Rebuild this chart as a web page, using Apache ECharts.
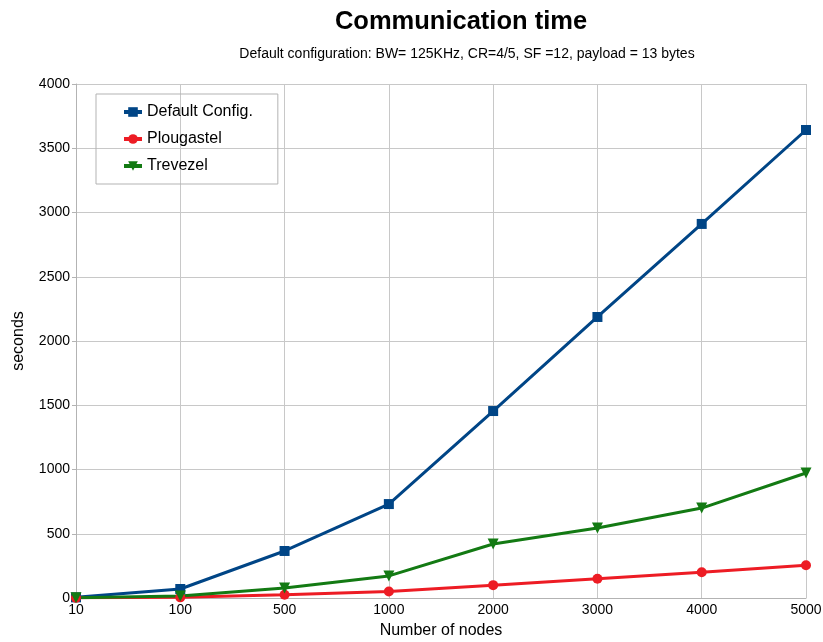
<!DOCTYPE html>
<html>
<head>
<meta charset="utf-8">
<script src="https://cdn.jsdelivr.net/npm/echarts@6/dist/echarts.min.js"></script>
<style>
  html, body { margin: 0; padding: 0; background: #fff; }
  #chart { width: 823px; height: 642px; }
</style>
</head>
<body>
<div id="chart"></div>
<script>
const nodes = ['10', '100', '500', '1000', '2000', '3000', '4000', '5000']
const defaultConfig = [5, 70, 366, 731, 1455, 2187, 2911, 3642]
const plougastel = [1, 5, 25, 50, 100, 150, 200, 255]
const trevezel = [2, 15, 78, 172, 420, 545, 700, 973]

const myChart = echarts.init(document.getElementById('chart'))
const font = 'Liberation Sans, Arial, sans-serif'

const mkSeries = (name, data, color, symbol, size) => ({
  name: name,
  type: 'line',
  data: data,
  symbol: symbol,
  symbolSize: size,
  lineStyle: { width: 3, color: color },
  itemStyle: { color: color },
  animation: false
})

myChart.setOption({
  title: [
    {
      text: 'Communication time',
      left: 456, top: 4, textAlign: 'center',
      textStyle: { fontFamily: font, fontSize: 25.5, fontWeight: 'bold', color: '#000' }
    },
    {
      text: 'Default configuration: BW= 125KHz, CR=4/5, SF =12, payload = 13 bytes',
      left: 462, top: 42, textAlign: 'center',
      textStyle: { fontFamily: font, fontSize: 14, fontWeight: 'normal', color: '#000' }
    }
  ],
  legend: {
    orient: 'vertical',
    left: 96, top: 94,
    padding: [10, 25, 10, 26],
    itemGap: 11,
    itemWidth: 18,
    itemHeight: 12,
    borderColor: '#b3b3b3',
    borderWidth: 1,
    lineStyle: { width: 4 },
    textStyle: { fontFamily: font, fontSize: 16, color: '#000' },
    data: ['Default Config.', 'Plougastel', 'Trevezel']
  },
  grid: { left: 76, right: 17, top: 84, bottom: 44, outerBoundsMode: 'none' },
  xAxis: {
    type: 'category',
    data: nodes,
    boundaryGap: false,
    name: 'Number of nodes',
    nameLocation: 'middle',
    nameGap: 25,
    nameTextStyle: { fontFamily: font, fontSize: 16, color: '#000' },
    axisLine: { lineStyle: { color: '#b3b3b3' } },
    axisTick: { show: false },
    axisLabel: { fontFamily: font, fontSize: 14, color: '#000', margin: 5 },
    splitLine: { show: true, lineStyle: { color: '#c8c8c8' } }
  },
  yAxis: {
    type: 'value',
    min: 0, max: 4000, interval: 500,
    name: 'seconds',
    nameLocation: 'middle',
    nameGap: 49,
    nameTextStyle: { fontFamily: font, fontSize: 16, color: '#000' },
    axisLine: { show: true, lineStyle: { color: '#b3b3b3' } },
    axisTick: { show: true, length: 4, lineStyle: { color: '#b3b3b3' } },
    axisLabel: { fontFamily: font, fontSize: 14, color: '#000', margin: 6, formatter: v => String(v) },
    splitLine: { lineStyle: { color: '#c8c8c8' } }
  },
  series: [
    mkSeries('Default Config.', defaultConfig, '#004586', 'rect', 10),
    mkSeries('Plougastel', plougastel, '#ed1c24', 'circle', 10),
    mkSeries('Trevezel', trevezel, '#137a13', 'path://M0,0 L10,0 L5,9 Z', 11)
  ]
})
</script>
</body>
</html>
